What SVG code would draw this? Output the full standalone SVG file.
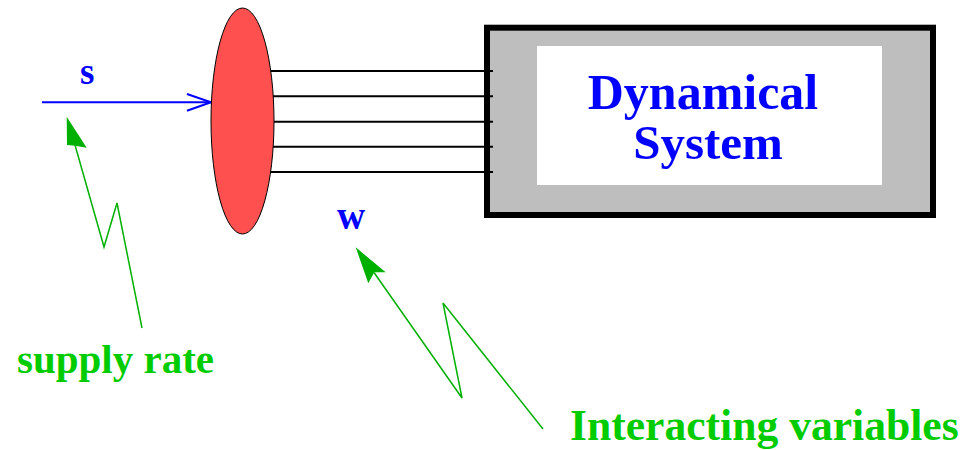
<svg xmlns="http://www.w3.org/2000/svg" width="963" height="450" viewBox="0 0 963 450">
  <style>
    .lbl { font-family: "Liberation Serif", "Times New Roman", serif; font-weight: bold; }
    .blue { fill: #0000ff; }
    .green { fill: #00cc00; }
    .wire { stroke: #000; stroke-width: 2; fill: none; }
    .lead { stroke: #00b000; stroke-width: 1.5; fill: none; stroke-linejoin: miter; }
    .head { fill: #00b000; stroke: none; }
  </style>

  <!-- dynamical system block -->
  <g id="system">
    <rect x="487" y="27.7" width="446" height="187.3" fill="#bebebe" stroke="#000" stroke-width="6"/>
    <rect x="537" y="46" width="345" height="139" fill="#fff"/>
    <text class="lbl blue" x="703" y="109" font-size="50" text-anchor="middle">Dynamical</text>
    <text class="lbl blue" x="708" y="159" font-size="49" text-anchor="middle">System</text>
  </g>

  <!-- connectors -->
  <g id="connectors">
    <line class="wire" x1="270" y1="71" x2="493" y2="71"/>
    <line class="wire" x1="272" y1="96.3" x2="493" y2="96.3"/>
    <line class="wire" x1="273" y1="121.7" x2="493" y2="121.7"/>
    <line class="wire" x1="272" y1="146.7" x2="493" y2="146.7"/>
    <line class="wire" x1="270" y1="172" x2="493" y2="172"/>

    <!-- supply rate input -->
    <line x1="42" y1="102.3" x2="211" y2="102.3" stroke="#0000ff" stroke-width="2"/>
    <polyline points="187,94 211,102.3 187,110.7" fill="none" stroke="#0000ff" stroke-width="2"/>

    <!-- pointer to s -->
    <polyline class="lead" points="75,145 104,247 117,203 142,328"/>
    <polygon class="head" points="66.7,116.7 67,145 75,145.7 86.7,147.7"/>

    <!-- pointer to w -->
    <polyline class="lead" points="374,272.5 462,398 443,303 543,429"/>
    <polygon class="head" points="355.7,247.3 368.3,283.3 374.3,272.3 385.7,272.3"/>
  </g>

  <!-- port ellipse -->
  <g id="port">
    <ellipse cx="242.5" cy="121" rx="31.5" ry="113" fill="#ff5050" stroke="#000" stroke-width="1"/>
  </g>

  <g id="label-s">
    <text class="lbl blue" x="80" y="84" font-size="37">s</text>
  </g>
  <g id="label-w">
    <text class="lbl blue" x="337" y="229" font-size="39">w</text>
  </g>
  <g id="label-supply">
    <text class="lbl green" x="17" y="373" font-size="41">supply rate</text>
  </g>
  <g id="label-interacting">
    <text class="lbl green" x="570" y="440" font-size="43.6">Interacting variables</text>
  </g>
</svg>
